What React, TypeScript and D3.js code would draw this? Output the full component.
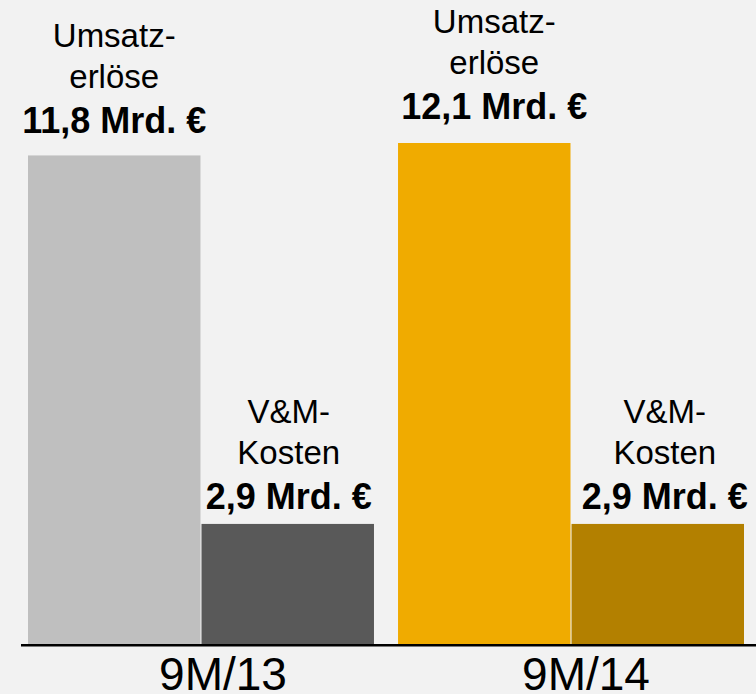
import * as d3 from "d3";
import React from "react";

// periods and series
const periods = ["9M/13", "9M/14"];
const seriesKeys = ["umsatz", "vm"];
const seriesTitles = [["Umsatz-", "erlöse"], ["V&M-", "Kosten"]];
const values = [
  [11.8, 2.9],
  [12.1, 2.9],
];
const valueLabels = [
  ["11,8 Mrd. €", "2,9 Mrd. €"],
  ["12,1 Mrd. €", "2,9 Mrd. €"],
];
const colors = [
  ["#bfbfbf", "#595959"],
  ["#f0ab00", "#b38000"],
];

// small label nudges, as in the original slide
const labelShift = [
  [0, 1],
  [10, 7],
];
const labelGap = [
  [22, 15],
  [24, 15],
];
const periodShift = [22, 15];

const W = 756;
const H = 694;
const baseY = 644;
const font = "'Liberation Sans', Arial, Helvetica, sans-serif";

export default function App() {
  const x = d3.scaleBand<string>().domain(periods).range([28, 744]).paddingInner(0.065).paddingOuter(0);
  const xi = d3.scaleBand<string>().domain(seriesKeys).range([0, x.bandwidth()]).paddingInner(0.006);
  const y = d3.scaleLinear().domain([0, 12.1]).range([baseY, 143]);

  return (
    <svg
      width={W}
      height={H}
      style={{ position: "absolute", left: 0, top: 0, display: "block", background: "#f2f2f2" }}
    >
      <rect x={0} y={0} width={W} height={H} fill="#f2f2f2" />
      {periods.map((p, pi) => (
        <g key={p} transform={`translate(${x(p)},0)`}>
          {seriesKeys.map((k, si) => {
            const v = values[pi][si];
            const bx = xi(k) as number;
            const top = y(v);
            const cx = bx + xi.bandwidth() / 2 + labelShift[pi][si];
            const boldY = top - labelGap[pi][si];
            return (
              <g key={k}>
                <rect x={bx} y={top} width={xi.bandwidth()} height={baseY - top} fill={colors[pi][si]} />
                <text x={cx} y={boldY - 45 - 41} textAnchor="middle" fontFamily={font} fontSize={33} fill="#000">
                  {seriesTitles[si][0]}
                </text>
                <text x={cx} y={boldY - 45} textAnchor="middle" fontFamily={font} fontSize={33} fill="#000">
                  {seriesTitles[si][1]}
                </text>
                <text x={cx} y={boldY} textAnchor="middle" fontFamily={font} fontSize={36} fontWeight="bold" fill="#000">
                  {valueLabels[pi][si]}
                </text>
              </g>
            );
          })}
          <text
            x={x.bandwidth() / 2 + periodShift[pi]}
            y={690}
            textAnchor="middle"
            fontFamily={font}
            fontSize={46}
            fill="#000"
          >
            {p}
          </text>
        </g>
      ))}
      <line x1={21} x2={W} y1={baseY + 1.3} y2={baseY + 1.3} stroke="#000" strokeWidth={2.6} />
    </svg>
  );
}
